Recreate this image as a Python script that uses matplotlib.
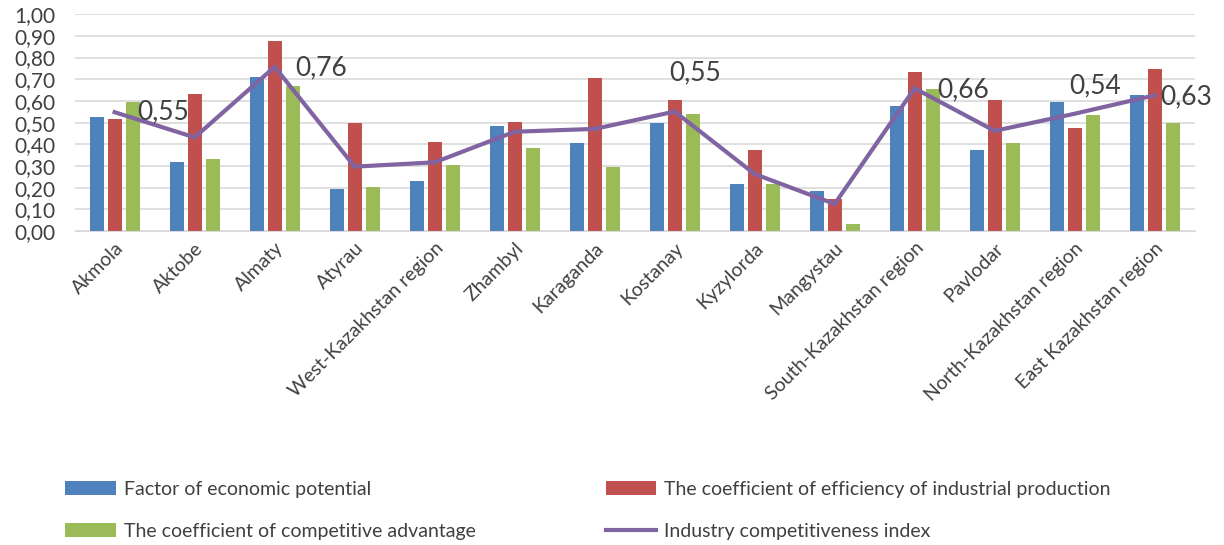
import numpy as np
import matplotlib
matplotlib.use("Agg")
import matplotlib.pyplot as plt

regions = ["Akmola", "Aktobe", "Almaty", "Atyrau", "West-Kazakhstan region", "Zhambyl",
           "Karaganda", "Kostanay", "Kyzylorda", "Mangystau", "South-Kazakhstan region",
           "Pavlodar", "North-Kazakhstan region", "East Kazakhstan region"]

economic_potential = [0.525, 0.32, 0.712, 0.192, 0.231, 0.486, 0.406, 0.497, 0.215, 0.185,
                      0.577, 0.372, 0.594, 0.628]
production_efficiency = [0.515, 0.632, 0.877, 0.497, 0.412, 0.502, 0.706, 0.605, 0.372, 0.146,
                         0.735, 0.605, 0.475, 0.746]
competitive_advantage = [0.595, 0.332, 0.668, 0.201, 0.305, 0.385, 0.295, 0.542, 0.215, 0.034,
                         0.655, 0.406, 0.537, 0.50]
competitiveness_index = [0.548, 0.432, 0.757, 0.297, 0.317, 0.458, 0.471, 0.551, 0.263, 0.125,
                         0.658, 0.462, 0.541, 0.626]

# which points get a value label, and where the label sits (offset in points)
labelled = {0: (16, 0), 2: (15, -1), 7: (-4, 28), 10: (16, -1), 12: (-4, 20), 13: (4, -1)}

plt.rcParams['font.family'] = ['Lato', 'DejaVu Sans']
text_color = '#404040'

fig = plt.figure(figsize=(12.24, 5.45), dpi=100)
ax = fig.add_axes([0.061, 0.576, 0.915, 0.398])

x = np.arange(len(regions))
w = 0.175
step = 0.225
ax.bar(x - step, economic_potential, w, color='#4F81BD', label='Factor of economic potential', zorder=2)
ax.bar(x, production_efficiency, w, color='#C0504D',
       label='The coefficient of efficiency of industrial production', zorder=2)
ax.bar(x + step, competitive_advantage, w, color='#9BBB59',
       label='The coefficient of competitive advantage', zorder=2)
ax.plot(x, competitiveness_index, color='#8064A2', lw=3, label='Industry competitiveness index', zorder=3)

for i, (dx, dy) in labelled.items():
    ax.annotate(f"{competitiveness_index[i]:.2f}".replace('.', ','), (x[i], competitiveness_index[i]),
                xytext=(dx, dy), textcoords='offset points', ha='left', va='center',
                fontsize=19, color=text_color, zorder=4)

ax.set_xlim(-0.5, len(regions) - 0.5)
ax.set_ylim(0, 1.0)
ax.set_yticks(np.arange(0, 1.01, 0.1))
ax.set_yticklabels([f"{v:.2f}".replace('.', ',') for v in np.arange(0, 1.01, 0.1)],
                   fontsize=15, color=text_color)
ax.set_xticks(x)
ax.set_xticklabels(regions, rotation=45, ha='right', rotation_mode='anchor',
                   fontsize=14, color=text_color)
ax.tick_params(axis='y', length=0, pad=14)
ax.tick_params(axis='x', length=0, pad=6)
ax.yaxis.grid(True, color='#D9D9D9', lw=1.2, zorder=0)
for s in ['top', 'right', 'left']:
    ax.spines[s].set_visible(False)
ax.spines['bottom'].set_color('#D9D9D9')

handles, labels = ax.get_legend_handles_labels()
order = [1, 3, 2, 0]
fig.legend([handles[i] for i in order], [labels[i] for i in order], ncol=2,
           loc='upper left', bbox_to_anchor=(0.039, 0.15), frameon=False,
           fontsize=14, labelcolor=text_color, columnspacing=6.7,
           handlelength=2.6, handletextpad=0.4, labelspacing=1.3)

fig.savefig("out.png", dpi=100)
